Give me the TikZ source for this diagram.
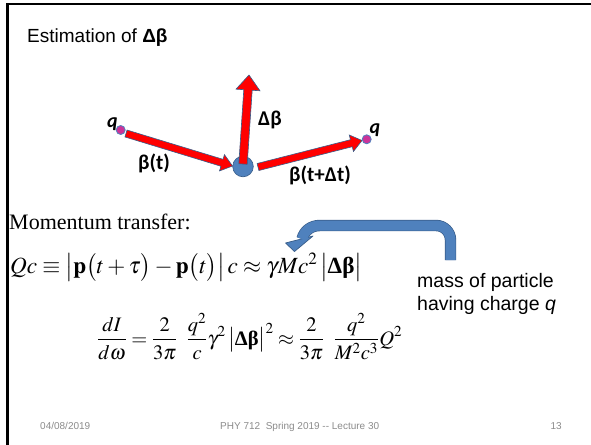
\documentclass[tikz,border=0pt]{standalone}
\usepackage{amsmath}
\usepackage{graphicx}
\usepackage{mathptmx}
\usepackage{fontspec}
\setmainfont{Liberation Serif}
\newfontfamily\arialf{Liberation Sans}
\newfontfamily\calibf{Carlito}
\usetikzlibrary{calc}
\definecolor{ppblue}{HTML}{4F81BD}
\definecolor{ppdark}{HTML}{385D8A}
\definecolor{ppmag}{HTML}{CC3399}
\definecolor{footgray}{HTML}{8C8C8C}
\newcommand\blkarrow[5]{%
  \coordinate (ba-h) at ($(#2)!#5!(#1)$);
  \filldraw[redarrow] ($(#1)!#3!90:(#2)$) -- ($(ba-h)!#3!-90:(#1)$) -- ($(ba-h)!#4!-90:(#1)$) -- (#2)
    -- ($(ba-h)!#4!90:(#1)$) -- ($(ba-h)!#3!90:(#1)$) -- ($(#1)!#3!-90:(#2)$) -- cycle;}
\begin{document}
\begin{tikzpicture}[x=1pt,y=-1pt,
  redarrow/.style={fill=red,draw=ppdark,line width=0.6pt,line join=miter},
  lbl/.style={font=\calibf\bfseries\fontsize{21}{23}\selectfont,inner sep=0pt},
  qlbl/.style={font=\calibf\bfseries\itshape\fontsize{20}{22}\selectfont,inner sep=0pt},
  dot/.style={circle,fill=ppmag,draw=ppblue,line width=0.8pt,minimum size=9pt,inner sep=0pt},
  ball/.style={circle,fill=ppblue,draw=ppdark,line width=0.6pt,minimum size=20.6pt,inner sep=0pt},
  foot/.style={font=\arialf\fontsize{10}{12}\selectfont,text=footgray,inner sep=0pt},
  frameline/.style={line width=2.6pt,line cap=rect}]
\useasboundingbox (0,0) rectangle (591,444);
\fill[white] (0,0) rectangle (591,444);
% frame
\draw[frameline] (7.5,444) -- (7.5,4) -- (591,4);
% title
\node[anchor=base west,inner sep=0pt,font=\arialf\fontsize{19}{21}\selectfont] (title) at (27,42) {Estimation of \textbf{Δβ}};
% particle diagram
\node[ball] (ball) at (243,166.5) {};
\node[dot] (q1) at (120.7,130) {};
\coordinate (a1s) at (126,133.5);
\coordinate (a1e) at (232.5,166);
\coordinate (a2s) at (243,164);
\coordinate (a2e) at (249,75);
\coordinate (a3s) at (258,167);
\coordinate (a3e) at (362,140.5);
\blkarrow{a1s}{a1e}{3.6pt}{8.5pt}{11pt}
\blkarrow{a2s}{a2e}{4.2pt}{12pt}{15pt}
\blkarrow{a3s}{a3e}{3.6pt}{8.5pt}{11pt}
\node[dot] (q2) at (366.7,139.3) {};
\node[qlbl] (ql1) at (112.5,124) {q};
\node[qlbl] (ql2) at (375,130) {q};
\node[lbl] (dbl) at (270,120) {Δβ};
\node[lbl] (btl) at (154,163) {β(t)};
\node[lbl] (btdl) at (320,175) {β(t+Δt)};
% text
\node[anchor=base west,inner sep=0pt,font=\fontsize{22}{24}\selectfont] (mt) at (9,229) {Momentum transfer:};
\node[anchor=base west,inner sep=0pt,font=\fontsize{22}{24}\selectfont] (eq1) at (10,273)
  {\resizebox{352pt}{!}{$Qc\equiv\bigl|\mathbf{p}\bigl(t+\tau\bigr)-\mathbf{p}\bigl(t\bigr)\bigr|\,c\approx\gamma Mc^2\,\bigl|\text{\bfseries Δβ}\bigr|$}};
\node[anchor=base west,inner sep=0pt,align=left,font=\arialf\fontsize{19.5}{23}\selectfont] (mass) at (417,310)
  {mass of particle\\having charge \textit{q}};
\node[anchor=base west,inner sep=0pt,font=\fontsize{20}{22}\selectfont] (eq2) at (97,345)
  {\resizebox{305pt}{!}{$\displaystyle\frac{dI}{d\omega}=\frac{2}{3\pi}\;\;\frac{q^2}{c}\gamma^2\,\bigl|\text{\bfseries Δβ}\bigr|^2\approx\frac{2}{3\pi}\;\;\frac{q^2}{M^2c^3}Q^2$}};
% bent arrow
\coordinate (ua) at (450.5,260);
\coordinate (ub) at (302,239);
\draw[ppdark,line width=11.4pt] (ua) -- (450.5,240) to[out=90,in=0] (436,225.5) -- (320,225.5) to[out=180,in=75] (ub);
\filldraw[fill=ppblue,draw=ppdark,line width=0.7pt,line join=round] (285.5,243) -- (313,236) -- (294.5,251.5) -- cycle;
\draw[ppblue,line width=10pt] (ua) -- (450.5,240) to[out=90,in=0] (436,225.5) -- (320,225.5) to[out=180,in=75] (ub);
% footer
\node[foot,anchor=base west] (date) at (40,429) {04/08/2019};
\node[foot,anchor=base west] (course) at (220,429) {PHY 712\ \ Spring 2019 -{}- Lecture 30};
\node[foot,anchor=base east] (page) at (562,429) {13};
\end{tikzpicture}
\end{document}
